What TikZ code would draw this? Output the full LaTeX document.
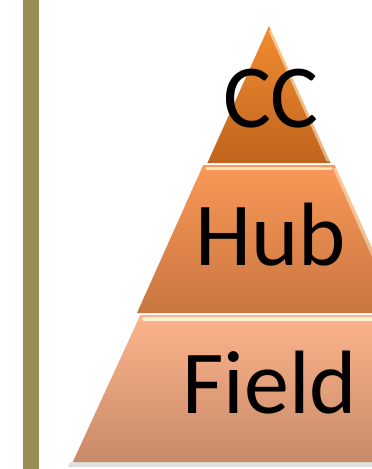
\documentclass[tikz,border=0pt]{standalone}
\usepackage{fontspec}
\setmainfont{Carlito}
\definecolor{barcol}{RGB}{150,140,84}
\definecolor{fieldtop}{RGB}{253,180,140}
\definecolor{fieldbot}{RGB}{200,138,104}
\definecolor{hubtop}{RGB}{250,152,88}
\definecolor{hubbot}{RGB}{200,118,64}
\definecolor{cctop}{RGB}{242,140,48}
\definecolor{ccbot}{RGB}{192,100,30}
\definecolor{cream}{RGB}{255,248,220}
\begin{document}
\begin{tikzpicture}[x=1pt,y=-1pt,
  lbl/.style={font=\fontsize{90}{90}\selectfont, text=black, inner sep=0pt, anchor=base},
  hl/.style={line width=3.5pt, draw=cream, opacity=0.75, line cap=round},
  edge/.style={line width=1.5pt, draw=cream, opacity=0.5}]
\useasboundingbox (0,0) rectangle (372,469);
\fill[white] (0,0) rectangle (372,469);
\begin{scope}
\clip (0,0) rectangle (372,469);
% shadow under base
\fill[black, opacity=0.12] (70,462) -- (470,462) -- (472,467) -- (68,467) -- cycle;
% Field
\shade[top color=fieldtop, bottom color=fieldbot]
  (140.4,315) -- (397.6,315) -- (465.2,462) -- (72.8,462) -- cycle;
\draw[hl, opacity=0.9] (144,319) -- (394,319);
\draw[edge] (396,318) -- (462,461);
% Hub
\shade[top color=hubtop, bottom color=hubbot]
  (203.2,165) -- (334.8,165) -- (401,313) -- (137,313) -- cycle;
\draw[hl] (207,168.5) -- (331,168.5);
\draw[hl, opacity=0.5] (335,169) -- (398,311);
% CC
\shade[top color=cctop, bottom color=ccbot]
  (269,26) -- (330.6,163) -- (207.4,163) -- cycle;
\draw[hl, opacity=0.55] (270.5,31) -- (328,160);
\end{scope}
% left bar
\fill[barcol] (23,0) rectangle (39,469);
% labels
\node[lbl] (cc) at (271,127) {CC};
\node[lbl] (hub) at (271,265) {Hub};
\node[lbl] (field) at (270,413) {Field};
\end{tikzpicture}
\end{document}
